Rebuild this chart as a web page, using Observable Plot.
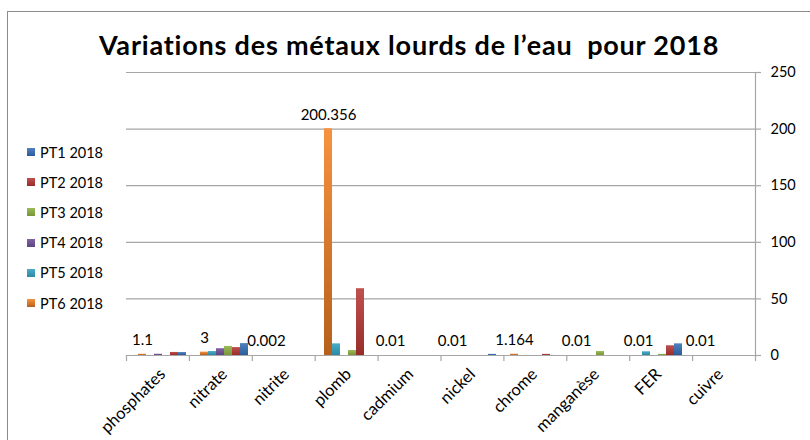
<!DOCTYPE html>
<html>
<head>
<meta charset="utf-8">
<script src="https://cdn.jsdelivr.net/npm/d3@7"></script>
<script src="https://cdn.jsdelivr.net/npm/@observablehq/plot@0.6"></script>
<style>
  html, body { margin: 0; padding: 0; background: #fff; }
  #chart { position: relative; width: 810px; height: 440px; overflow: hidden; font-family: Lato, "Liberation Sans", sans-serif; }
  #chart svg { position: absolute; left: 0; top: 0; }
  #frame { position: absolute; left: 7px; top: 11px; width: 820px; height: 450px; border: 1px solid #8c8c8c; box-sizing: border-box; }
  #title { position: absolute; left: 0; width: 818px; top: 28px; text-align: center; font-weight: 700; font-size: 27px; letter-spacing: 0.8px; color: #000; white-space: pre; }
  #legend { position: absolute; left: 27px; top: 137px; font-size: 14.5px; color: #000; }
  .item { height: 30.2px; display: flex; align-items: center; }
  .sw { width: 8px; height: 8px; margin-right: 5px; }
</style>
</head>
<body>
<div id="chart">
  <div id="frame"></div>
</div>
<script>
const categories = ["phosphates", "nitrate", "nitrite", "plomb", "cadmium", "nickel", "chrome", "manganèse", "FER", "cuivre"];
const series = ["PT1 2018", "PT2 2018", "PT3 2018", "PT4 2018", "PT5 2018", "PT6 2018"];
const pt1 = [2.6, 10.5, 0, 0, 0, 1.0, 0, 0, 10.3, 0];
const pt2 = [2.7, 7, 0, 59, 0, 0, 1.0, 0, 8.6, 0];
const pt3 = [0, 8, 0, 4.4, 0, 0, 0, 3.5, 1.0, 0];
const pt4 = [1.1, 6, 0, 0, 0, 0, 0, 0, 0, 0];
const pt5 = [0, 3.5, 0, 10.3, 0, 0, 0, 0, 3.3, 0];
const pt6 = [1.1, 3, 0.002, 200.356, 0.01, 0.01, 1.164, 0.01, 0.01, 0.01];
const yTicks = [0, 50, 100, 150, 200, 250];
const title = "Variations des métaux lourds de l’eau  pour 2018";

const colorsTop = ["#4f81bd", "#c0504d", "#9bbb59", "#8064a2", "#4bacc6", "#f7923f"];
const colorsBottom = ["#2c5d9b", "#972d2a", "#769638", "#5d4581", "#2a8aa5", "#b5601c"];

const values = [pt1, pt2, pt3, pt4, pt5, pt6];
const data = categories.flatMap((c, i) => series.map((s, j) => ({cat: c, series: s, value: values[j][i]})));
const labels = categories.map((c, i) => ({cat: c, series: series[5], value: pt6[i]}));

const W = 810, H = 440;
const margins = {marginLeft: 126, marginRight: 55, marginTop: 72, marginBottom: 85};
const grid = "#a6a6a6";

// background: grid, axes
const back = Plot.plot({
  width: W, height: H, ...margins,
  x: {domain: [0, categories.length], axis: null},
  y: {domain: [0, 250], axis: null},
  style: {background: "transparent", fontFamily: "Lato, sans-serif", fontSize: "14.5px", color: "#000"},
  marks: [
    Plot.ruleY(yTicks, {x1: 0, x2: categories.length, stroke: grid, strokeWidth: 1.2}),
    Plot.ruleX([categories.length], {y1: 0, y2: 250, stroke: grid, strokeWidth: 1.2}),
    Plot.axisX({ticks: d3.range(0, categories.length + 1), tickSize: 6, tickFormat: () => "", stroke: grid, strokeWidth: 1.2, strokeOpacity: 1}),
    Plot.axisY({anchor: "right", ticks: yTicks, tickSize: 5, tickPadding: 10, stroke: grid, strokeWidth: 1.2, strokeOpacity: 1, fill: "#000", label: null})
  ]
});

// gradients
const defs = d3.select(back).append("defs");
series.forEach((s, j) => {
  const g = defs.append("linearGradient").attr("id", "grad" + j).attr("x1", 0).attr("y1", 0).attr("x2", 0).attr("y2", 1);
  g.append("stop").attr("offset", "0%").attr("stop-color", colorsTop[j]);
  g.append("stop").attr("offset", "100%").attr("stop-color", colorsBottom[j]);
});

const front = Plot.plot({
  width: W, height: H, ...margins,
  fx: {domain: categories, padding: 0, label: null, tickRotate: -45, tickSize: 0, tickPadding: 16},
  x: {domain: series.slice().reverse(), paddingInner: 0, paddingOuter: 0.62, axis: null},
  y: {domain: [0, 250], axis: null},
  color: {domain: series, range: series.map((s, j) => `url(#grad${j})`)},
  style: {background: "transparent", fontFamily: "Lato, sans-serif", fontSize: "16.5px", color: "#000"},
  marks: [
    Plot.barY(data, {fx: "cat", x: "series", y: "value", fill: "series"}),
    Plot.text(labels, {fx: "cat", x: "series", y: "value", text: d => String(d.value), lineAnchor: "bottom", dy: -9, fontSize: 15, fill: "#000"})
  ]
});

const chart = document.getElementById("chart");
chart.appendChild(back);
chart.appendChild(front);

const t = document.createElement("div");
t.id = "title"; t.textContent = title;
chart.appendChild(t);

const legend = document.createElement("div");
legend.id = "legend";
series.forEach((s, j) => {
  const it = document.createElement("div"); it.className = "item";
  const sw = document.createElement("div"); sw.className = "sw";
  sw.style.background = `linear-gradient(${colorsTop[j]}, ${colorsBottom[j]})`;
  const tx = document.createElement("span"); tx.textContent = s;
  it.appendChild(sw); it.appendChild(tx);
  legend.appendChild(it);
});
chart.appendChild(legend);
</script>
</body>
</html>
